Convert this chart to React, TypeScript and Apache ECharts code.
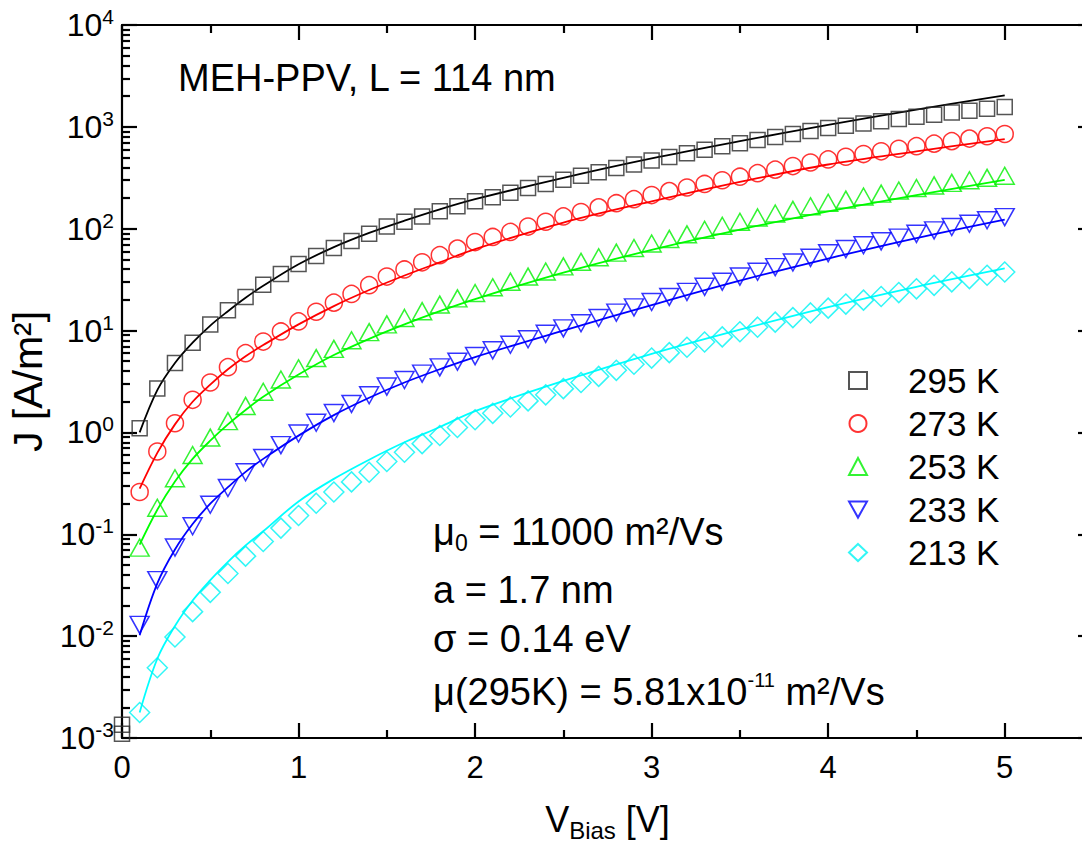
import { useEffect, useRef } from 'react';
import * as echarts from 'echarts';

// Bias voltage grid of the measured points [V]
const V = [
  0.0, 0.1, 0.2, 0.3, 0.4, 0.5, 0.6, 0.7, 0.8, 0.9, 1.0,
  1.1, 1.2, 1.3, 1.4, 1.5, 1.6, 1.7, 1.8, 1.9, 2.0,
  2.1, 2.2, 2.3, 2.4, 2.5, 2.6, 2.7, 2.8, 2.9, 3.0,
  3.1, 3.2, 3.3, 3.4, 3.5, 3.6, 3.7, 3.8, 3.9, 4.0,
  4.1, 4.2, 4.3, 4.4, 4.5, 4.6, 4.7, 4.8, 4.9, 5.0,
];

// Measured current density J [A/m²]
const J295 = [0.0011, 1.1, 2.7, 4.8, 7.6, 11.5, 15.8, 21.4, 28.2, 35.9, 45, 54, 64.6, 75.9, 89, 105, 117, 132, 148, 166, 186, 204, 226, 251, 275, 302, 331, 359, 394, 427, 468, 507, 550, 596, 646, 692, 741, 794, 851, 912, 977, 1028, 1081, 1138, 1197, 1259, 1318, 1380, 1439, 1503, 1567];
const J295_SECOND_AT_0 = 0.00135;
const J273 = [null, 0.26, 0.65, 1.23, 2.09, 3.09, 4.37, 6.0, 7.8, 9.8, 12.3, 15.3, 18.8, 22.9, 27.9, 33.9, 39.8, 46.8, 55, 63.8, 74, 83, 93, 105, 117, 132, 146, 162, 178, 195, 214, 234, 254, 275, 299, 324, 351, 380, 412, 447, 479, 509, 541, 575, 610, 646, 684, 724, 767, 809, 851];
const J253 = [null, 0.074, 0.182, 0.355, 0.6, 0.89, 1.29, 1.82, 2.51, 3.31, 4.27, 5.37, 6.61, 8.04, 9.66, 11.5, 13.3, 15.5, 18.0, 20.7, 23.4, 26.6, 30.2, 33.9, 38.0, 42.7, 47.3, 52.5, 58.2, 64.6, 71.6, 79.4, 88.1, 97.7, 107, 117, 129, 141, 153, 166, 180, 193, 207, 221, 237, 251, 266, 282, 299, 316, 331];
const J233 = [null, 0.0129, 0.0355, 0.0741, 0.12, 0.195, 0.285, 0.407, 0.562, 0.75, 0.977, 1.245, 1.55, 1.905, 2.32, 2.82, 3.27, 3.78, 4.35, 4.95, 5.62, 6.4, 7.26, 8.22, 9.29, 10.5, 11.8, 13.3, 15.0, 16.9, 19.1, 21.4, 24.0, 26.9, 30.2, 33.9, 37.8, 42.0, 46.6, 51.8, 57.5, 63.1, 68.9, 75.2, 81.8, 89.1, 96.4, 104, 112, 121, 130];
const J213 = [null, 0.00178, 0.0049, 0.0098, 0.0174, 0.0269, 0.0412, 0.061, 0.0851, 0.115, 0.153, 0.202, 0.26, 0.327, 0.407, 0.519, 0.638, 0.776, 0.933, 1.12, 1.33, 1.54, 1.78, 2.04, 2.34, 2.69, 3.09, 3.55, 4.07, 4.68, 5.37, 6.07, 6.85, 7.73, 8.67, 9.73, 10.8, 12.1, 13.4, 14.9, 16.6, 18.2, 19.9, 21.6, 23.6, 25.7, 27.8, 30.1, 32.4, 34.9, 37.6];

// Model fit curves
const FIT_V = [0.1, 0.2, 0.3, 0.4, 0.5, 0.6, 0.7, 0.8, 1.0, 1.2, 1.4, 1.6, 1.8, 2.0, 2.5, 3.0, 3.5, 4.0, 4.5, 5.0];
const F295 = [1.0, 2.6, 4.8, 7.6, 11.2, 15.5, 21, 27.5, 44.7, 66, 91, 120, 155, 195, 316, 490, 724, 1047, 1479, 2042];
const F273 = [0.28, 0.63, 1.2, 2.0, 2.95, 4.17, 5.6, 7.2, 11.5, 17.4, 25, 34.7, 46.8, 63, 115, 186, 288, 427, 575, 759];
const F253 = [0.079, 0.174, 0.33, 0.55, 0.83, 1.2, 1.66, 2.24, 3.7, 5.75, 8.3, 11.5, 15.5, 20.4, 37, 62, 98, 148, 214, 302];
const F233 = [0.0102, 0.033, 0.071, 0.126, 0.2, 0.29, 0.41, 0.55, 0.93, 1.48, 2.19, 3.09, 4.17, 5.5, 10, 17.8, 30.9, 51, 81, 123];
const F213 = [0.00178, 0.006, 0.0126, 0.0224, 0.0355, 0.0537, 0.0776, 0.107, 0.21, 0.35, 0.54, 0.8, 1.13, 1.62, 3.2, 5.9, 10.2, 17, 26.9, 40.7];

const LEGEND_NAMES = ['295 K', '273 K', '253 K', '233 K', '213 K'];
const X_MAJOR = [0, 1, 2, 3, 4, 5];
const X_MINOR = [0.5, 1.5, 2.5, 3.5, 4.5];
const Y_DECADES = [-3, -2, -1, 0, 1, 2, 3];

const FONT = "'Liberation Sans', Arial, Helvetica, sans-serif";

const SERIES_STYLE = [
  { data: J295, fit: F295, color: '#000000', mark: '#2a2a2a', symbol: 'rect', rotate: 0, size: 15, icon: 'rect' },
  { data: J273, fit: F273, color: '#ff0000', mark: '#ff0000', symbol: 'circle', rotate: 0, size: 17, icon: 'circle' },
  { data: J253, fit: F253, color: '#00ff00', mark: '#00f000', symbol: 'triangle', rotate: 0, size: [19, 17], icon: 'triangle' },
  { data: J233, fit: F233, color: '#0000ff', mark: '#0000ff', symbol: 'triangle', rotate: 180, size: [19, 17], icon: 'path://M0,0L20,0L10,18Z' },
  { data: J213, fit: F213, color: '#00ffff', mark: '#00f4f4', symbol: 'diamond', rotate: 0, size: 20, icon: 'diamond' },
];

export default function App() {
  const ref = useRef<HTMLDivElement>(null);

  useEffect(() => {
    if (!ref.current) return;
    const chart = echarts.init(ref.current, null, { renderer: 'svg' });

    const minorY: number[] = [];
    Y_DECADES.forEach((d) => {
      for (let k = 2; k <= 9; k++) minorY.push(Number((k * Math.pow(10, d)).toPrecision(3)));
    });

    const axisLine = { show: true, onZero: false, lineStyle: { color: '#000', width: 2.2 } };
    const tickStyle = { color: '#000', width: 2.2 };
    const noSplit = { show: false };

    const scatter = SERIES_STYLE.map((s, si) => {
      const pts: any[] = [];
      V.forEach((v, i) => {
        if (s.data[i] != null) pts.push([v, s.data[i]]);
      });
      if (si === 0) pts.push([0, J295_SECOND_AT_0]);
      return {
        type: 'scatter',
        name: LEGEND_NAMES[si],
        data: pts,
        symbol: s.symbol,
        symbolSize: s.size,
        symbolRotate: s.rotate,
        itemStyle: { color: 'rgba(255,255,255,0)', borderColor: s.mark, borderWidth: 1.5 },
        clip: false,
        silent: true,
        z: 3,
      };
    });

    const fits = SERIES_STYLE.map((s, si) => ({
      type: 'line',
      name: LEGEND_NAMES[si] + ' fit',
      data: FIT_V.map((v, i) => [v, s.fit[i]]),
      showSymbol: false,
      symbol: 'none',
      smooth: 0.35,
      lineStyle: { color: s.color, width: 1.8 },
      silent: true,
      z: 2,
    }));

    const mainText = { fontSize: 38, fontFamily: FONT, color: '#000', lineHeight: 44 };

    const option: any = {
      animation: false,
      backgroundColor: '#ffffff',
      textStyle: { fontFamily: FONT },
      grid: { left: 122, top: 25, right: -11, bottom: 108, containLabel: false, outerBoundsMode: 'none' },
      legend: {
        data: LEGEND_NAMES.map((n, i) => ({ name: n, icon: SERIES_STYLE[i].icon })),
        orient: 'vertical',
        left: 848,
        top: 363,
        padding: 0,
        itemWidth: 18,
        itemHeight: 17,
        itemGap: 8,
        selectedMode: false,
        textStyle: { fontSize: 35, fontFamily: FONT, color: '#000', lineHeight: 34, padding: [0, 0, 0, 36] },
      },
      xAxis: [
        {
          type: 'value', min: 0, max: 5.5, position: 'bottom',
          axisLine,
          axisTick: { show: true, inside: true, length: 15, lineStyle: tickStyle, customValues: X_MAJOR },
          axisLabel: { customValues: X_MAJOR, fontSize: 31, color: '#000', fontFamily: FONT, margin: 14 },
          splitLine: noSplit,
          name: '{v|V}{sub|Bias}{v| [V]}',
          nameLocation: 'middle',
          nameGap: 58,
          nameTextStyle: {
            rich: {
              v: { fontSize: 36, fontFamily: FONT, color: '#000', lineHeight: 46 },
              sub: { fontSize: 24, fontFamily: FONT, color: '#000', lineHeight: 20, verticalAlign: 'bottom' },
            },
          },
        },
        {
          type: 'value', min: 0, max: 5.5, position: 'bottom',
          axisLine: { show: false },
          axisTick: { show: true, inside: true, length: 8, lineStyle: tickStyle, customValues: X_MINOR },
          axisLabel: { show: false },
          splitLine: noSplit,
        },
        {
          type: 'value', min: 0, max: 5.5, position: 'top',
          axisLine,
          axisTick: { show: true, inside: true, length: 15, lineStyle: tickStyle, customValues: X_MAJOR },
          axisLabel: { show: false },
          splitLine: noSplit,
        },
        {
          type: 'value', min: 0, max: 5.5, position: 'top',
          axisLine: { show: false },
          axisTick: { show: true, inside: true, length: 8, lineStyle: tickStyle, customValues: X_MINOR },
          axisLabel: { show: false },
          splitLine: noSplit,
        },
      ],
      yAxis: [
        {
          type: 'log', logBase: 10, min: 1e-3, max: 1e4, position: 'left',
          axisLine,
          axisTick: { show: true, inside: true, length: 15, lineStyle: tickStyle },
          minorTick: { show: false },
          axisLabel: {
            margin: 8,
            formatter: (v: number) => '{b|10}{s|' + Math.round(Math.log10(v)) + '}',
            rich: {
              b: { fontSize: 32, fontFamily: FONT, color: '#000', lineHeight: 38 },
              s: { fontSize: 21, fontFamily: FONT, color: '#000', lineHeight: 20, verticalAlign: 'top' },
            },
          },
          splitLine: noSplit,
          name: 'J [A/m²]',
          nameLocation: 'middle',
          nameGap: 70,
          nameTextStyle: { fontSize: 41, fontFamily: FONT, color: '#000' },
        },
        {
          type: 'log', logBase: 10, min: 1e-3, max: 1e4, position: 'left',
          axisLine: { show: false },
          axisTick: { show: true, inside: true, length: 8, lineStyle: tickStyle, customValues: minorY },
          axisLabel: { show: false },
          splitLine: noSplit,
        },
        {
          type: 'log', logBase: 10, min: 1e-3, max: 1e4, position: 'right',
          axisLine,
          axisTick: { show: true, inside: true, length: 15, lineStyle: tickStyle },
          axisLabel: { show: false },
          splitLine: noSplit,
        },
      ],
      graphic: [
        {
          type: 'text', x: 178, y: 78,
          style: { text: 'MEH-PPV, L = 114 nm', fontSize: 38, fontFamily: FONT, fill: '#000', verticalAlign: 'middle', align: 'left' },
        },
        {
          type: 'text', x: 433, y: 532,
          style: {
            text: '{m|μ}{sub|0}{m| = 11000 m²/Vs}', verticalAlign: 'middle', align: 'left',
            rich: { m: mainText, sub: { fontSize: 23, fontFamily: FONT, color: '#000', lineHeight: 20, verticalAlign: 'bottom' } },
          },
        },
        {
          type: 'text', x: 433, y: 590,
          style: { text: '{m|a = 1.7 nm}', verticalAlign: 'middle', align: 'left', rich: { m: mainText } },
        },
        {
          type: 'text', x: 433, y: 639,
          style: { text: '{m|σ = 0.14 eV}', verticalAlign: 'middle', align: 'left', rich: { m: mainText } },
        },
        {
          type: 'text', x: 433, y: 692,
          style: {
            text: '{m|μ(295K) = 5.81x10}{sup|-11}{m| m²/Vs}', verticalAlign: 'middle', align: 'left',
            rich: { m: mainText, sup: { fontSize: 20, fontFamily: FONT, color: '#000', lineHeight: 20, verticalAlign: 'top' } },
          },
        },
      ],
      series: [...fits, ...scatter],
    };

    chart.setOption(option);
    return () => chart.dispose();
  }, []);

  return (
    <div
      ref={ref}
      style={{ position: 'fixed', left: 0, top: 0, width: 1082, height: 846, background: '#fff' }}
    />
  );
}
